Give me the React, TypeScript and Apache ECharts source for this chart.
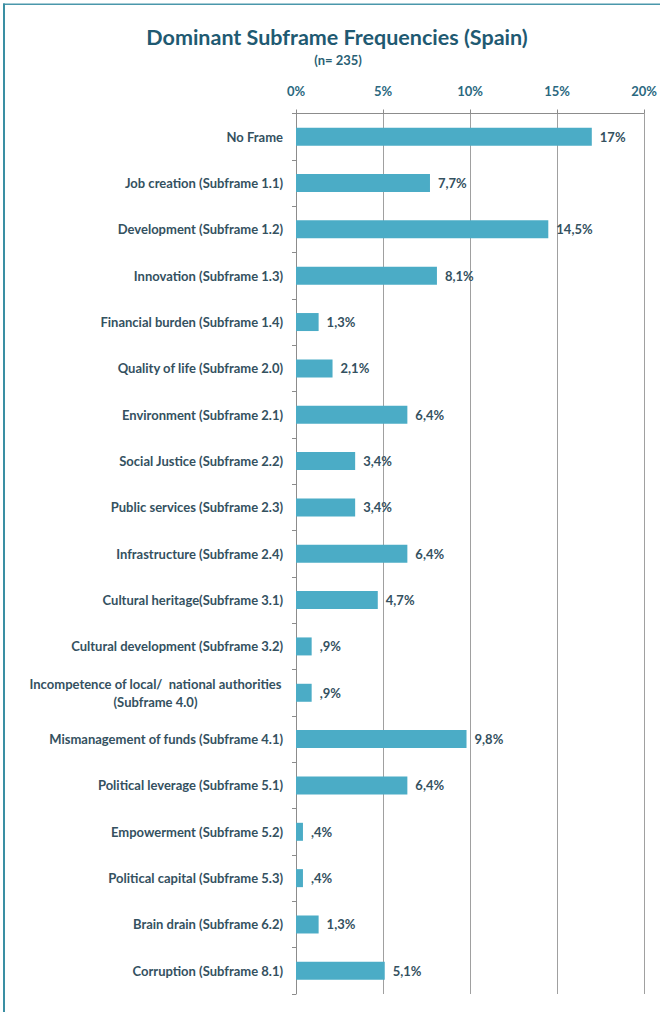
import React, { useEffect, useRef } from "react";
import * as echarts from "echarts";

const categories = [
  "No Frame",
  "Job creation (Subframe 1.1)",
  "Development (Subframe 1.2)",
  "Innovation (Subframe 1.3)",
  "Financial burden (Subframe 1.4)",
  "Quality of life (Subframe 2.0)",
  "Environment (Subframe 2.1)",
  "Social Justice (Subframe 2.2)",
  "Public services (Subframe 2.3)",
  "Infrastructure (Subframe 2.4)",
  "Cultural heritage(Subframe 3.1)",
  "Cultural development (Subframe 3.2)",
  "Incompetence of local/  national authorities\n(Subframe 4.0)",
  "Mismanagement of funds (Subframe 4.1)",
  "Political leverage (Subframe 5.1)",
  "Empowerment (Subframe 5.2)",
  "Political capital (Subframe 5.3)",
  "Brain drain (Subframe 6.2)",
  "Corruption (Subframe 8.1)",
];

const values = [17, 7.7, 14.5, 8.1, 1.3, 2.1, 6.4, 3.4, 3.4, 6.4, 4.7, 0.9, 0.9, 9.8, 6.4, 0.4, 0.4, 1.3, 5.1];

const xTicks = [0, 5, 10, 15, 20];

const TITLE = "Dominant Subframe Frequencies (Spain)";
const SUBTITLE = "(n= 235)";

const FONT = "Lato, 'Open Sans', sans-serif";
const TEXT = "#34515f";
const BAR = "#4BACC6";
const FS = 13;

function fmt(v: number): string {
  let s = Number.isInteger(v) ? String(v) : v.toFixed(1).replace(".", ",");
  if (s.startsWith("0,")) s = s.slice(1);
  return s + "%";
}

function measure(text: string, font: string): number {
  const c = document.createElement("canvas").getContext("2d");
  if (!c) return 250;
  c.font = font;
  return c.measureText(text).width;
}

export default function App() {
  const ref = useRef<HTMLDivElement>(null);
  useEffect(() => {
    document.body.style.margin = "0";
    if (!ref.current) return;
    const chart = echarts.init(ref.current, null, { renderer: "svg" });
    const labelFont = `bold ${FS}px Lato`;
    const longW = Math.ceil(measure("Incompetence of local/  national authorities", labelFont)) + 2;
    chart.setOption({
      animation: false,
      backgroundColor: "#ffffff",
      graphic: [
        { type: "text", x: 337, y: 37, style: { text: TITLE, font: `bold 21.5px ${FONT}`, fill: "#1f5a72", align: "center", verticalAlign: "middle" } },
        { type: "text", x: 338, y: 60, style: { text: SUBTITLE, font: `bold 13px ${FONT}`, fill: "#2a5f74", align: "center", verticalAlign: "middle" } },
        { type: "line", shape: { x1: 3, y1: 4.2, x2: 660, y2: 4.2 }, style: { stroke: "#4a97ab", lineWidth: 1.6 } },
        { type: "line", shape: { x1: 4, y1: 3.4, x2: 4, y2: 1012 }, style: { stroke: "#3a8fa3", lineWidth: 2 } },
      ],
      grid: { left: 296, right: 16, top: 113.5, bottom: 18, containLabel: false },
      xAxis: {
        type: "value",
        position: "top",
        min: 0,
        max: 20,
        interval: 5,
        axisLine: { show: true, lineStyle: { color: "#8c8c8c", width: 1 } },
        axisTick: { show: true, length: 4, lineStyle: { color: "#8c8c8c" } },
        splitLine: { show: true, lineStyle: { color: "#a0a0a0", width: 1 } },
        axisLabel: {
          formatter: (v: number) => (xTicks.includes(v) ? v + "%" : ""),
          color: "#2a6880",
          fontFamily: FONT,
          fontWeight: "bold",
          fontSize: FS,
          margin: 16,
        },
      },
      yAxis: {
        type: "category",
        inverse: true,
        data: categories,
        axisLine: { show: true, lineStyle: { color: "#8c8c8c", width: 1 } },
        axisTick: { show: true, length: 4, lineStyle: { color: "#8c8c8c" } },
        axisLabel: {
          color: TEXT,
          fontFamily: FONT,
          fontWeight: "bold",
          fontSize: FS,
          margin: 13,
          lineHeight: 18,
          formatter: (v: string) => {
            if (v.includes("\n")) {
              return v
                .split("\n")
                .map((l) => `{c|${l}}`)
                .join("\n");
            }
            return v;
          },
          rich: {
            c: {
              width: longW,
              align: "center",
              color: TEXT,
              fontFamily: FONT,
              fontWeight: "bold",
              fontSize: FS,
              lineHeight: 18,
            },
          },
        },
      },
      series: [
        {
          type: "bar",
          data: values,
          barWidth: 18,
          itemStyle: { color: BAR },
          label: {
            show: true,
            position: "right",
            distance: 8,
            formatter: (p: any) => fmt(p.value),
            color: TEXT,
            fontFamily: FONT,
            fontWeight: "bold",
            fontSize: FS,
          },
        },
      ],
    });
    return () => chart.dispose();
  }, []);
  return <div ref={ref} style={{ width: 660, height: 1012 }} />;
}
